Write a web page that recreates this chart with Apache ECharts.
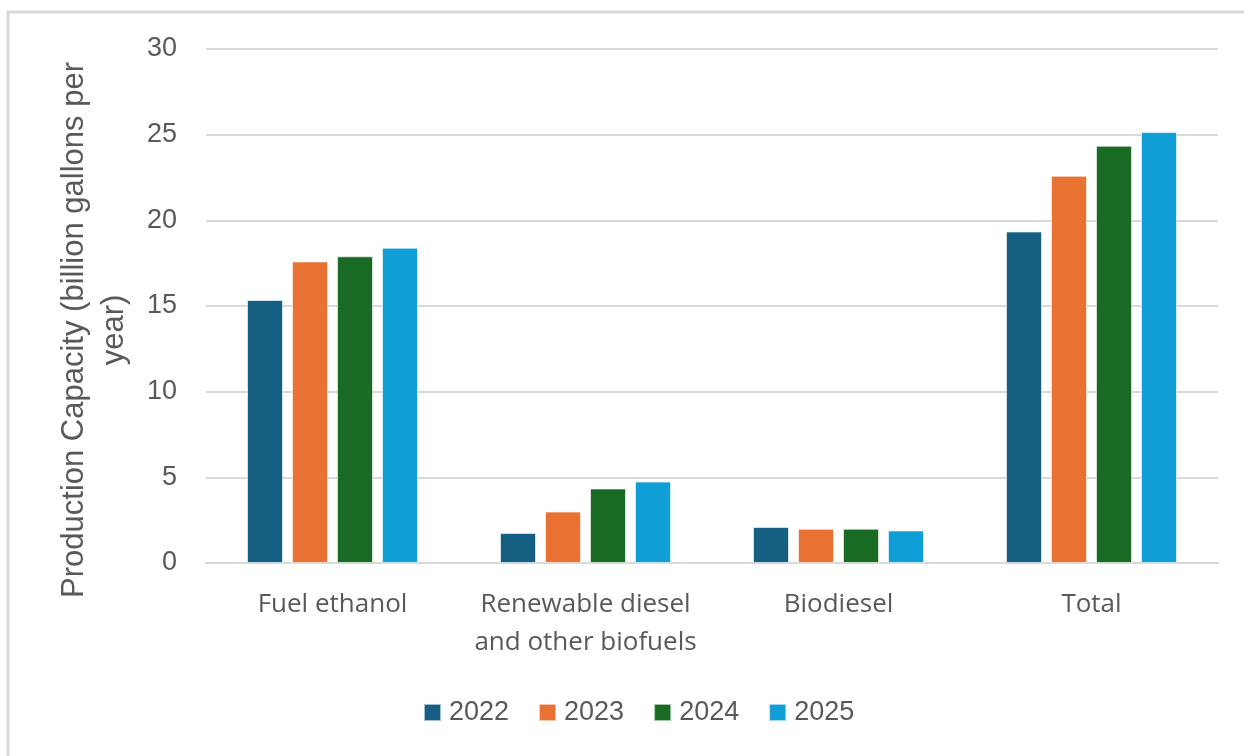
<!DOCTYPE html>
<html>
<head>
<meta charset="utf-8">
<script src="https://cdn.jsdelivr.net/npm/echarts@6/dist/echarts.min.js"></script>
<style>
  html, body { margin: 0; padding: 0; background: #fff; }
  #chart { width: 1244px; height: 756px; }
</style>
</head>
<body>
<div id="chart"></div>
<script>
const categories = ['Fuel ethanol', 'Renewable diesel\nand other biofuels', 'Biodiesel', 'Total'];
const years = ['2022', '2023', '2024', '2025'];
const values2022 = [15.35, 1.75, 2.1, 19.35];
const values2023 = [17.6, 3.0, 2.0, 22.6];
const values2024 = [17.9, 4.35, 2.0, 24.35];
const values2025 = [18.4, 4.75, 1.9, 25.15];
const yTicks = [0, 5, 10, 15, 20, 25, 30];

const colors = ['#156082', '#E97132', '#196B24', '#0F9ED5'];
const seriesValues = [values2022, values2023, values2024, values2025];

const chart = echarts.init(document.getElementById('chart'), null, {
  renderer: 'canvas'
});

const opt = {
  animation: false,
  color: colors,
  graphic: [{
    type: 'rect',
    shape: { x: 8, y: 12, width: 1260, height: 780 },
    style: { fill: 'none', stroke: '#d9d9d9', lineWidth: 3 },
    silent: true
  }],
  grid: {
    left: 206,
    right: 26,
    top: 49,
    bottom: 193
  },
  legend: {
    data: years,
    top: 699,
    left: 423,
    padding: 0,
    itemWidth: 17,
    itemHeight: 17,
    itemGap: 29,
    icon: 'rect',
    textStyle: {
      fontFamily: 'Liberation Sans',
      fontSize: 27,
      color: '#595959',
      padding: [0, 0, 0, 3]
    }
  },
  xAxis: {
    type: 'category',
    data: categories,
    axisLine: { lineStyle: { color: '#d9d9d9', width: 2 } },
    axisTick: { show: false },
    axisLabel: {
      interval: 0,
      margin: 23,
      fontFamily: 'Open Sans',
      fontSize: 26,
      lineHeight: 38,
      color: '#595959'
    }
  },
  yAxis: {
    type: 'value',
    min: yTicks[0],
    max: yTicks[yTicks.length - 1],
    interval: 5,
    name: 'Production Capacity (billion gallons per\nyear)',
    nameLocation: 'middle',
    nameGap: 72,
    nameTextStyle: {
      fontFamily: 'Liberation Sans',
      fontSize: 31,
      lineHeight: 40,
      color: '#595959',
      padding: [0, 48, 0, 0]
    },
    axisLine: { show: false },
    axisTick: { show: false },
    splitLine: { lineStyle: { color: '#d9d9d9', width: 2 } },
    axisLabel: {
      margin: 29,
      fontFamily: 'Liberation Sans',
      fontSize: 27,
      color: '#595959'
    }
  },
  series: years.map((y, i) => ({
    name: y,
    type: 'bar',
    data: seriesValues[i],
    barWidth: 36,
    barGap: '25%',
    itemStyle: {
      color: colors[i],
      borderColor: 'rgba(255,255,255,0.6)',
      borderWidth: 1
    }
  }))
};

chart.setOption(opt);
</script>
</body>
</html>
